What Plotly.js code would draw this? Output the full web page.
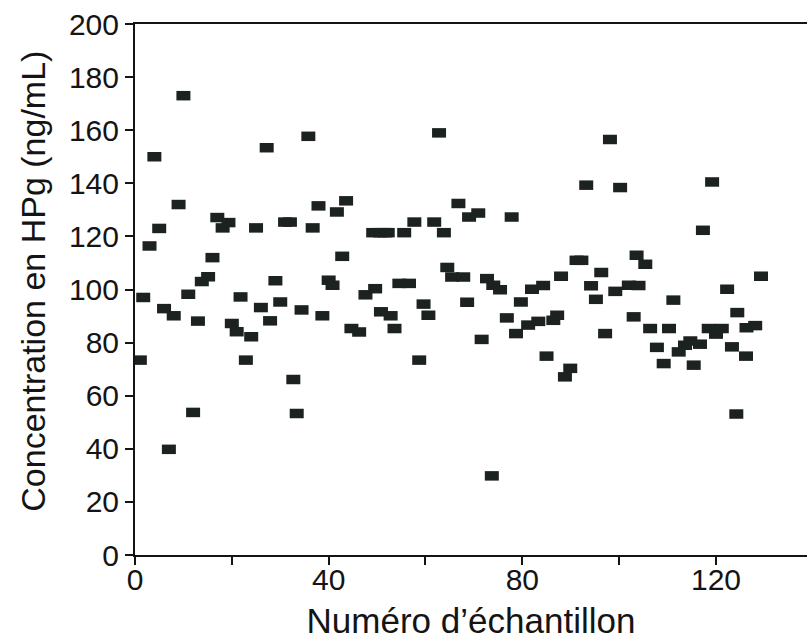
<!DOCTYPE html>
<html>
<head>
<meta charset="utf-8">
<script src="https://cdn.plot.ly/plotly-3.0.1.min.js"></script>
<style>html,body{margin:0;padding:0;background:#fff;overflow:hidden}</style>
</head>
<body>
<div id="chart" style="width:807px;height:641px"></div>
<script>
// Sample number (x) and HPg concentration in ng/mL (y)
const sampleNo = [
  1, 1.7, 3, 4, 5, 6, 7, 8, 9, 10,
  11, 12, 13, 13.8, 15.1, 16, 17, 18.1, 19.3, 20,
  21, 21.8, 22.9, 24, 25, 26, 27.2, 27.9, 29, 30,
  31, 32, 32.7, 33.4, 34.4, 35.8, 36.7, 37.9, 38.7, 40,
  40.8, 41.7, 42.8, 43.6, 44.7, 46.3, 47.6, 49.2, 49.6, 50.6,
  51.6, 52.2, 50.8, 52.8, 53.6, 54.6, 56.6, 55.6, 57.7, 58.7,
  59.6, 60.6, 61.8, 62.8, 63.8, 64.5, 65.5, 66.8, 67.8, 68.6,
  69, 70.9, 71.6, 72.7, 73.7, 74, 75.4, 76.8, 77.8, 78.7,
  79.7, 81.2, 82, 83.3, 84.3, 85, 86.4, 87.2, 88, 88.8,
  89.9, 91.2, 92.2, 93.2, 94.2, 95.2, 96.3, 97.1, 98.1, 99.2,
  100.2, 102, 103, 103.6, 104, 105.4, 106.4, 107.8, 109.2, 110.3,
  111.2, 112.3, 113.6, 114.7, 115.4, 116.7, 117.3, 118.5, 119.2, 120,
  121.2, 122.3, 123.3, 124.2, 124.4, 126.2, 126.3, 128.1, 129.3
];
const concentration = [
  73.4, 97, 116.4, 150, 123, 92.8, 39.8, 90.1, 132, 173,
  98.2, 53.7, 88.1, 103, 104.8, 112, 127.1, 123.2, 125.2, 87.2,
  84.1, 97.2, 73.4, 82.2, 123.2, 93.2, 153.4, 88.2, 103.3, 95.3,
  125.4, 125.4, 66.1, 53.3, 92.3, 157.7, 123.2, 131.5, 90.1, 103.5,
  101.6, 129.2, 112.5, 133.4, 85.3, 84, 98, 121.4, 100.3, 121.4,
  121.4, 121.4, 91.6, 90.1, 85.3, 102.3, 102.3, 121.4, 125.4, 73.4,
  94.5, 90.3, 125.4, 159, 121.4, 108.3, 104.7, 132.4, 104.7, 95.2,
  127.3, 128.8, 81.2, 104.1, 29.8, 101.6, 99.9, 89.3, 127.3, 83.4,
  95.3, 86.6, 100.1, 88, 101.5, 74.9, 88.4, 90.3, 105, 67.1,
  70.3, 111, 111, 139.3, 101.4, 96.3, 106.4, 83.4, 156.5, 99.3,
  138.4, 101.6, 89.7, 112.9, 101.5, 109.5, 85.3, 78.2, 72.1, 85.3,
  96, 76.5, 79, 80.6, 71.5, 79.4, 122.3, 85.3, 140.5, 83.2,
  85.3, 100.1, 78.4, 53.1, 91.3, 74.9, 85.6, 86.4, 105
];
const xTickVals = [0, 20, 40, 60, 80, 100, 120, 140];
const xTickText = ['0', '', '40', '', '80', '', '120', ''];
const yTickVals = [0, 20, 40, 60, 80, 100, 120, 140, 160, 180, 200];
const xTitle = 'Numéro d\u2019échantillon';
const yTitle = 'Concentration en HPg (ng/mL)';

const trace = {
  type: 'scatter',
  mode: 'markers',
  x: sampleNo,
  y: concentration,
  marker: {
    symbol: 'line-ew',
    size: 10,
    color: '#1c221f',
    line: {color: '#1c221f', width: 9.5}
  },
  hoverinfo: 'x+y'
};

const fontFam = 'Liberation Sans, Arial, Helvetica, sans-serif';
const ink = '#141414';
const layout = {
  width: 807,
  height: 641,
  margin: {l: 135, r: 0, t: 24, b: 86, pad: 0},
  paper_bgcolor: '#ffffff',
  plot_bgcolor: '#ffffff',
  showlegend: false,
  font: {family: fontFam, color: ink},
  xaxis: {
    range: [0, 138.8],
    tickmode: 'array',
    tickvals: xTickVals,
    ticktext: xTickText,
    ticks: 'outside',
    ticklen: 8,
    tickwidth: 2,
    tickcolor: ink,
    ticklabelstandoff: -11,
    showline: true,
    linecolor: ink,
    linewidth: 2,
    mirror: true,
    showgrid: false,
    zeroline: false,
    tickfont: {size: 30, family: fontFam, color: ink},
    title: {text: xTitle, font: {size: 35, family: fontFam, color: ink}, standoff: 13}
  },
  yaxis: {
    range: [0, 200],
    tickmode: 'array',
    tickvals: yTickVals,
    ticks: 'outside',
    ticklen: 8,
    tickwidth: 2,
    tickcolor: ink,
    showline: true,
    linecolor: ink,
    linewidth: 2,
    showgrid: false,
    zeroline: false,
    tickfont: {size: 30, family: fontFam, color: ink}
  },
  annotations: [{
    text: yTitle,
    textangle: -90,
    xref: 'paper', yref: 'paper',
    x: -0.153, y: 0.515,
    xanchor: 'center', yanchor: 'middle',
    showarrow: false,
    font: {size: 34, family: fontFam, color: ink}
  }]
};

Plotly.newPlot('chart', [trace], layout, {displayModeBar: false, staticPlot: true});
</script>
</body>
</html>
